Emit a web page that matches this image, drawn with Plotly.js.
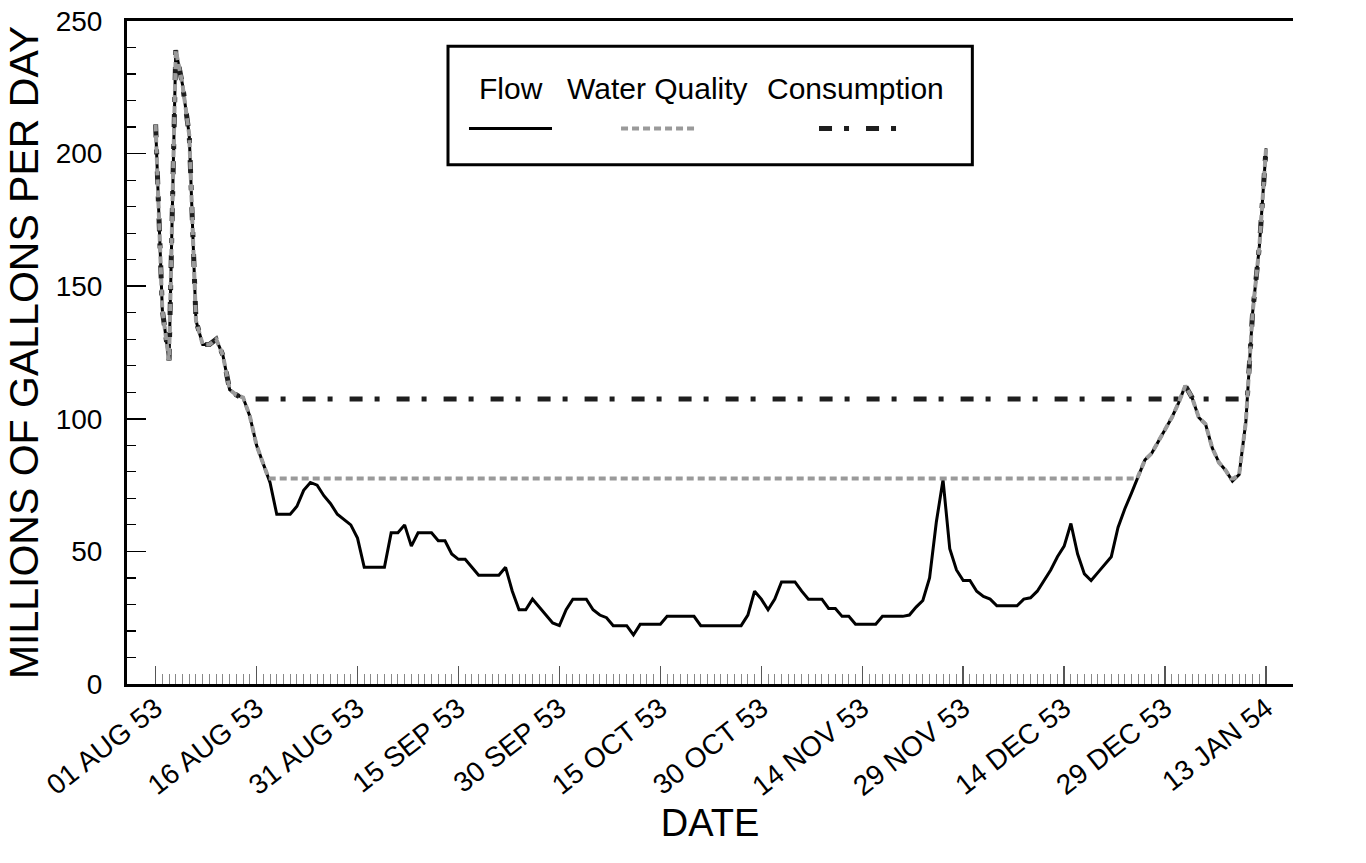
<!DOCTYPE html>
<html>
<head>
<meta charset="utf-8">
<title>Flow, water quality and consumption, Aug 1953 - Jan 1954</title>
<script src="https://cdn.plot.ly/plotly-3.0.1.min.js"></script>
<style>
  html, body { margin: 0; padding: 0; background: #fff; }
  #chart { width: 1366px; height: 863px; }
</style>
</head>
<body>
<div id="chart"></div>
<script>
// Daily river flow, million gallons per day, 01 Aug 1953 (day 0) to 13 Jan 1954 (day 165)
const flow = [
  211, 141, 122, 239, 226, 207, 137, 128, 128, 130,
  124, 111, 109, 108, 101, 90, 83, 76, 64, 64,
  64, 67, 73, 76, 75, 71, 68, 64, 62, 60,
  55, 44, 44, 44, 44, 57, 57, 60, 52, 57,
  57, 57, 54, 54, 49, 47, 47, 44, 41, 41,
  41, 41, 44, 35, 28, 28, 32, 29, 26, 23,
  22, 28, 32, 32, 32, 28, 26, 25, 22, 22,
  22, 18.5, 22.5, 22.5, 22.5, 22.5, 25.5, 25.5, 25.5, 25.5,
  25.5, 22, 22, 22, 22, 22, 22, 22, 26, 35,
  32, 28, 32, 38.5, 38.5, 38.5, 35, 32, 32, 32,
  28.5, 28.5, 25.5, 25.5, 22.5, 22.5, 22.5, 22.5, 25.5, 25.5,
  25.5, 25.5, 26, 29, 31.5, 40, 61, 77, 51, 43,
  39, 39, 35, 33, 32, 29.5, 29.5, 29.5, 29.5, 32,
  32.5, 35, 39, 43, 48, 52, 60.5, 49, 41.5, 39,
  42, 45, 48, 59, 66, 72, 78.5, 84.5, 87, 91.5,
  96, 100.5, 106, 112.5, 108, 100.5, 98, 89, 83.5, 80.5,
  76.5, 79, 99, 140, 165, 202
];

// Water-quality requirement line: follows the flow where the flow is higher,
// otherwise holds at 77.5 (day offsets from 01 Aug 1953, values)
const qualityDays = [
  0, 1, 2, 3, 4, 5, 6, 7, 8, 9, 10, 11, 12, 13, 14, 15, 16,
  16.8, 145.85,
  146, 147, 148, 149, 150, 151, 152, 153, 154, 155,
  156, 157, 158, 159, 159.75, 160.2, 161, 162, 163, 164, 165
];
const qualityValues = [
  211, 141, 122, 239, 226, 207, 137, 128, 128, 130, 124, 111, 109, 108, 101, 90, 83,
  77.5, 77.5,
  78.5, 84.5, 87, 91.5, 96, 100.5, 106, 112.5, 108, 100.5,
  98, 89, 83.5, 80.5, 77.5, 77.5, 79, 99, 140, 165, 202
];

// Consumption requirement line: follows the flow where the flow is higher,
// otherwise holds at 107.5
const consumptionDays = [
  0, 1, 2, 3, 4, 5, 6, 7, 8, 9, 10, 11, 12, 13,
  13.07, 152.23, 153, 154, 154.07, 162.2, 163, 164, 165
];
const consumptionValues = [
  211, 141, 122, 239, 226, 207, 137, 128, 128, 130, 124, 111, 109, 108,
  107.5, 107.5, 112.5, 108, 107.5, 107.5, 140, 165, 202
];

// Labelled date ticks every 15 days
const tickDates = [
  '1953-08-01', '1953-08-16', '1953-08-31', '1953-09-15', '1953-09-30', '1953-10-15',
  '1953-10-30', '1953-11-14', '1953-11-29', '1953-12-14', '1953-12-29', '1954-01-13'
];
const tickLabels = [
  '01 AUG 53', '16 AUG 53', '31 AUG 53', '15 SEP 53', '30 SEP 53', '15 OCT 53',
  '30 OCT 53', '14 NOV 53', '29 NOV 53', '14 DEC 53', '29 DEC 53', '13 JAN 54'
];

const seriesNames = ['Flow', 'Water Quality', 'Consumption'];

const START = Date.UTC(1953, 7, 1);
const DAY_MS = 86400000;
const toDate = d => new Date(START + Math.round(d * DAY_MS)).toISOString().slice(0, 19).replace('T', ' ');

const flowDates = flow.map((_, i) => toDate(i));
const qualityDates = qualityDays.map(toDate);
const consumptionDates = consumptionDays.map(toDate);
const dailyTicks = flow.map((_, i) => toDate(i));

const FONT = 'Liberation Sans, Arial, Helvetica, sans-serif';

const styles = {
  flow: { color: '#000000', width: 3 },
  quality: { color: '#9a9a9a', width: 4, dash: '7px,4px' },
  consumption: { color: '#1e1e1e', width: 5, dash: '13px,12px,5px,17px' }
};

const traces = [
  {
    x: flowDates, y: flow, name: seriesNames[0], type: 'scatter', mode: 'lines',
    line: styles.flow, showlegend: false, hoverinfo: 'x+y'
  },
  {
    x: consumptionDates, y: consumptionValues, name: seriesNames[2], type: 'scatter', mode: 'lines',
    line: styles.consumption, showlegend: false, hoverinfo: 'x+y'
  },
  {
    x: qualityDates, y: qualityValues, name: seriesNames[1], type: 'scatter', mode: 'lines',
    line: styles.quality, showlegend: false, hoverinfo: 'x+y'
  }
];

const yCommon = {
  range: [0, 250],
  tickmode: 'linear', tick0: 0, dtick: 50,
  ticks: 'inside', ticklen: 19, tickwidth: 1.5, tickcolor: '#000',
  minor: { dtick: 10, ticks: 'inside', ticklen: 9, tickwidth: 1.2, tickcolor: '#000', showgrid: false },
  showline: true, linewidth: 3, linecolor: '#000',
  showgrid: false, zeroline: false,
  tickfont: { family: FONT, size: 28, color: '#000' },
  ticklabelstandoff: 16,
  fixedrange: true
};

// Custom legend: name above a short sample of each line style
const legendBox = { x0: 0.2753, x1: 0.7250, y0: 0.783, y1: 0.962 };
const legendText = [
  { name: seriesNames[0], x: 0.3293 },
  { name: seriesNames[1], x: 0.4554 },
  { name: seriesNames[2], x: 0.6245 }
];
const legendSamples = [
  { x0: 0.2933, x1: 0.3645, line: styles.flow },
  { x0: 0.4237, x1: 0.4897, line: styles.quality },
  { x0: 0.5935, x1: 0.6612, line: styles.consumption }
];

const shapes = [
  {
    type: 'rect', xref: 'paper', yref: 'paper',
    x0: legendBox.x0, x1: legendBox.x1, y0: legendBox.y0, y1: legendBox.y1,
    line: { color: '#000', width: 3 }, fillcolor: '#fff', layer: 'above'
  }
].concat(legendSamples.map(s => ({
  type: 'line', xref: 'paper', yref: 'paper',
  x0: s.x0, x1: s.x1, y0: 0.838, y1: 0.838,
  line: s.line, layer: 'above'
})));

const annotations = legendText.map(t => ({
  xref: 'paper', yref: 'paper', x: t.x, y: 0.898,
  xanchor: 'center', yanchor: 'middle', showarrow: false,
  text: t.name, font: { family: FONT, size: 30, color: '#000' }
}));

const layout = {
  width: 1366, height: 863,
  margin: { l: 127, r: 73, t: 21, b: 179, pad: 0 },
  paper_bgcolor: '#fff', plot_bgcolor: '#fff',
  font: { family: FONT, color: '#000' },
  showlegend: false,
  xaxis: {
    type: 'date',
    range: ['1953-07-27 18:00', '1954-01-17 00:00'],
    tickmode: 'array', tickvals: tickDates, ticktext: tickLabels,
    tickangle: -38,
    ticks: 'inside', ticklen: 18, tickwidth: 1.5, tickcolor: '#555',
    minor: { tickmode: 'array', tickvals: dailyTicks, ticks: 'inside', ticklen: 10, tickwidth: 1, tickcolor: '#888', showgrid: false },
    showline: true, linewidth: 3, linecolor: '#000', mirror: true,
    showgrid: false, zeroline: false,
    tickfont: { family: FONT, size: 28, color: '#000' },
    ticklabelstandoff: -6,
    title: { text: 'DATE', font: { family: FONT, size: 38, color: '#000' }, standoff: 8 },
    fixedrange: true
  },
  yaxis: Object.assign({}, yCommon, {
    side: 'left',
    title: { text: 'MILLIONS OF GALLONS PER DAY', font: { family: FONT, size: 41, color: '#000' }, standoff: 5 }
  }),
  yaxis2: Object.assign({}, yCommon, {
    side: 'right', overlaying: 'y', anchor: 'x'
  }),
  shapes: shapes,
  annotations: annotations
};

Plotly.newPlot('chart', traces, layout, { displayModeBar: false, staticPlot: true });
</script>
</body>
</html>
